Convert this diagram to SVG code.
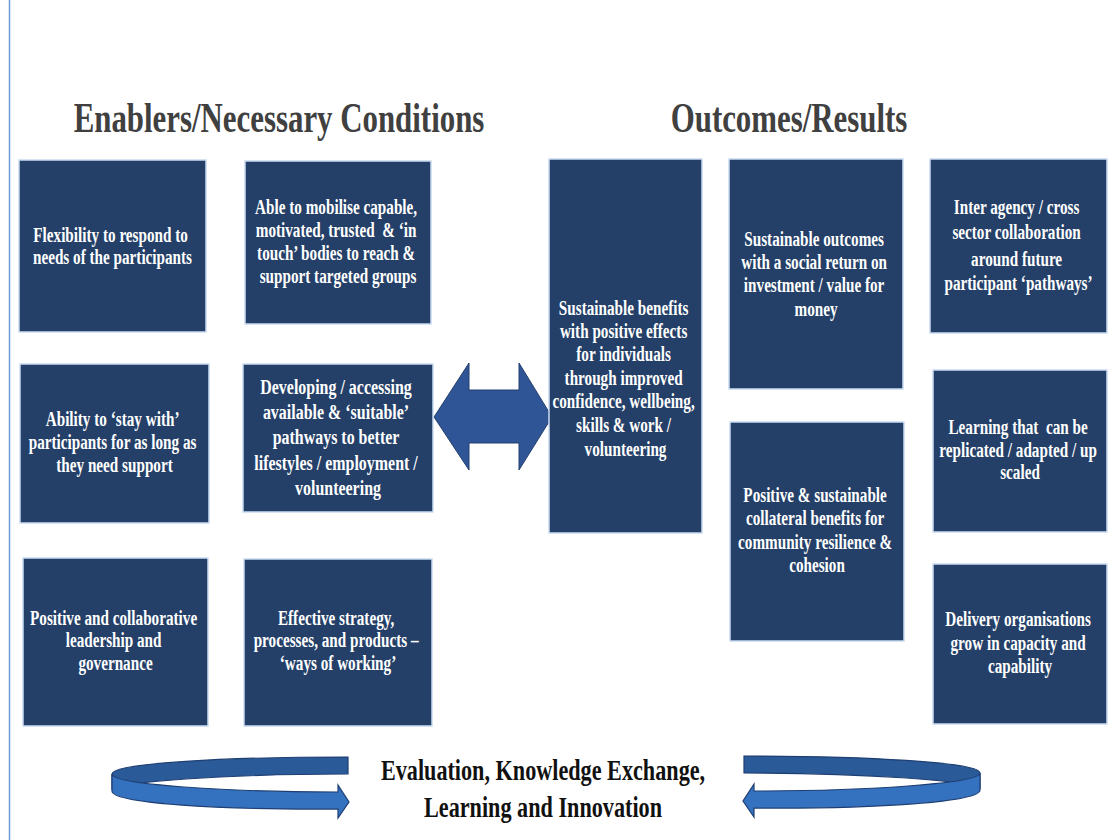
<svg xmlns="http://www.w3.org/2000/svg" width="1109" height="840" viewBox="0 0 1109 840">
  <style>
    .box { fill: #243f68; stroke: #c9dcf2; stroke-width: 1.5; }
    .t { font-family: "Liberation Serif", "Times New Roman", serif; font-weight: bold; font-size: 20px; fill: #ffffff; text-anchor: middle; }
    .t20 { font-size: 21px; }
    .title { font-family: "Liberation Serif", "Times New Roman", serif; font-weight: bold; font-size: 42px; fill: #404040; text-anchor: middle; }
    .foot { font-family: "Liberation Serif", "Times New Roman", serif; font-weight: bold; font-size: 30px; fill: #111111; text-anchor: middle; }
    .back { fill: #2a5a97; stroke: #1f3f73; stroke-width: 1.2; }
    .front { fill: #3471bf; stroke: #1f3f73; stroke-width: 1.2; }
    .dbl { fill: #2f5597; stroke: #223f6e; stroke-width: 1; }
  </style>

  <rect x="0" y="0" width="1109" height="840" fill="#ffffff"/>
  <!-- page margin rule -->
  <line x1="9.5" y1="0" x2="9.5" y2="840" stroke="#6f9bd6" stroke-width="1.5"/>

  <!-- headings -->
  <text class="title" transform="translate(279 132) scale(0.735 1)" x="0" y="0">Enablers/Necessary Conditions</text>
  <text class="title" transform="translate(789 132) scale(0.735 1)" x="0" y="0">Outcomes/Results</text>

  <!-- connectors -->
  <g id="connectors">
    <polygon class="dbl" points="434,417 469,363 469,390 519,390 519,363 552,417 519,470 519,443 469,443 469,470"/>
  </g>

  <!-- enablers -->
  <g id="n-flexibility">
    <rect class="box" x="19" y="160" width="187" height="172"/>
    <text class="t" transform="translate(112.5 0) scale(0.76 1)">
      <tspan x="0" y="242">Flexibility to respond to</tspan>
      <tspan x="0" y="264">needs of the participants</tspan>
    </text>
  </g>
  <g id="n-mobilise">
    <rect class="box" x="245" y="161" width="186" height="163"/>
    <text class="t" transform="translate(338 0) scale(0.76 1)">
      <tspan x="0" y="214">Able to mobilise capable,</tspan>
      <tspan x="0" y="237" xml:space="preserve">motivated, trusted  &amp; ‘in</tspan>
      <tspan x="0" y="260">touch’ bodies to reach &amp;</tspan>
      <tspan x="0" y="283">support targeted groups</tspan>
    </text>
  </g>
  <g id="n-stay">
    <rect class="box" x="20" y="364" width="189" height="159"/>
    <text class="t" transform="translate(114.5 0) scale(0.76 1)">
      <tspan x="0" y="426">Ability to ‘stay with’</tspan>
      <tspan x="0" y="449">participants for as long as</tspan>
      <tspan x="0" y="472">they need support</tspan>
    </text>
  </g>
  <g id="n-pathways">
    <rect class="box" x="243" y="364" width="190" height="148"/>
    <text class="t t20" transform="translate(338 0) scale(0.76 1)">
      <tspan x="0" y="394">Developing / accessing</tspan>
      <tspan x="0" y="419">available &amp; ‘suitable’</tspan>
      <tspan x="0" y="444">pathways to better</tspan>
      <tspan x="0" y="470">lifestyles / employment /</tspan>
      <tspan x="0" y="495">volunteering</tspan>
    </text>
  </g>
  <g id="n-leadership">
    <rect class="box" x="23" y="558" width="185" height="168"/>
    <text class="t" transform="translate(115.5 0) scale(0.76 1)">
      <tspan x="0" y="625">Positive and collaborative</tspan>
      <tspan x="0" y="647">leadership and</tspan>
      <tspan x="0" y="670">governance</tspan>
    </text>
  </g>
  <g id="n-strategy">
    <rect class="box" x="244" y="559" width="188" height="167"/>
    <text class="t" transform="translate(338 0) scale(0.76 1)">
      <tspan x="0" y="625">Effective strategy,</tspan>
      <tspan x="0" y="647">processes, and products –</tspan>
      <tspan x="0" y="670">‘ways of working’</tspan>
    </text>
  </g>

  <!-- outcomes -->
  <g id="n-benefits">
    <rect class="box" x="549" y="159" width="153" height="374"/>
    <text class="t" transform="translate(625.5 0) scale(0.76 1)">
      <tspan x="0" y="315">Sustainable benefits</tspan>
      <tspan x="0" y="338">with positive effects</tspan>
      <tspan x="0" y="361">for individuals</tspan>
      <tspan x="0" y="385">through improved</tspan>
      <tspan x="0" y="408">confidence, wellbeing,</tspan>
      <tspan x="0" y="432">skills &amp; work /</tspan>
      <tspan x="0" y="456">volunteering</tspan>
    </text>
  </g>
  <g id="n-social-return">
    <rect class="box" x="729" y="159" width="174" height="230"/>
    <text class="t" transform="translate(816 0) scale(0.76 1)">
      <tspan x="0" y="246">Sustainable outcomes</tspan>
      <tspan x="0" y="269">with a social return on</tspan>
      <tspan x="0" y="292">investment / value for</tspan>
      <tspan x="0" y="316">money</tspan>
    </text>
  </g>
  <g id="n-community">
    <rect class="box" x="730" y="422" width="174" height="219"/>
    <text class="t" transform="translate(817 0) scale(0.76 1)">
      <tspan x="0" y="502">Positive &amp; sustainable</tspan>
      <tspan x="0" y="525">collateral benefits for</tspan>
      <tspan x="0" y="549">community resilience &amp;</tspan>
      <tspan x="0" y="572">cohesion</tspan>
    </text>
  </g>
  <g id="n-interagency">
    <rect class="box" x="930" y="159" width="177" height="174"/>
    <text class="t" transform="translate(1018.5 0) scale(0.76 1)">
      <tspan x="0" y="214">Inter agency / cross</tspan>
      <tspan x="0" y="239">sector collaboration</tspan>
      <tspan x="0" y="266">around future</tspan>
      <tspan x="0" y="290">participant ‘pathways’</tspan>
    </text>
  </g>
  <g id="n-learning">
    <rect class="box" x="933" y="370" width="174" height="162"/>
    <text class="t" transform="translate(1020 0) scale(0.76 1)">
      <tspan x="0" y="434" xml:space="preserve">Learning that  can be</tspan>
      <tspan x="0" y="457">replicated / adapted / up</tspan>
      <tspan x="0" y="479">scaled</tspan>
    </text>
  </g>
  <g id="n-capacity">
    <rect class="box" x="933" y="564" width="174" height="160"/>
    <text class="t" transform="translate(1020 0) scale(0.76 1)">
      <tspan x="0" y="626">Delivery organisations</tspan>
      <tspan x="0" y="650">grow in capacity and</tspan>
      <tspan x="0" y="673">capability</tspan>
    </text>
  </g>

  <!-- evaluation loop -->
  <g id="n-evaluation">
    <g id="loop-left">
      <path class="back" d="M348,757 C230,757 112,763 112,774 L112,790 C112,782 230,774 348,774 Z"/>
      <path class="front" d="M112,774 C112,784 220,792 338,792 L338,785 L349,802 L338,818 L338,809 C215,810 112,803 112,791 Z"/>
    </g>
    <g id="loop-right" transform="translate(1092 -1) scale(-1 1)">
      <path class="back" d="M348,757 C230,757 112,763 112,774 L112,790 C112,782 230,774 348,774 Z"/>
      <path class="front" d="M112,774 C112,784 220,792 338,792 L338,785 L349,802 L338,818 L338,809 C215,810 112,803 112,791 Z"/>
    </g>
    <text class="foot" transform="translate(543 780) scale(0.74 1)" x="0" y="0">Evaluation, Knowledge Exchange,</text>
    <text class="foot" transform="translate(543 817) scale(0.74 1)" x="0" y="0">Learning and Innovation</text>
  </g>
</svg>
